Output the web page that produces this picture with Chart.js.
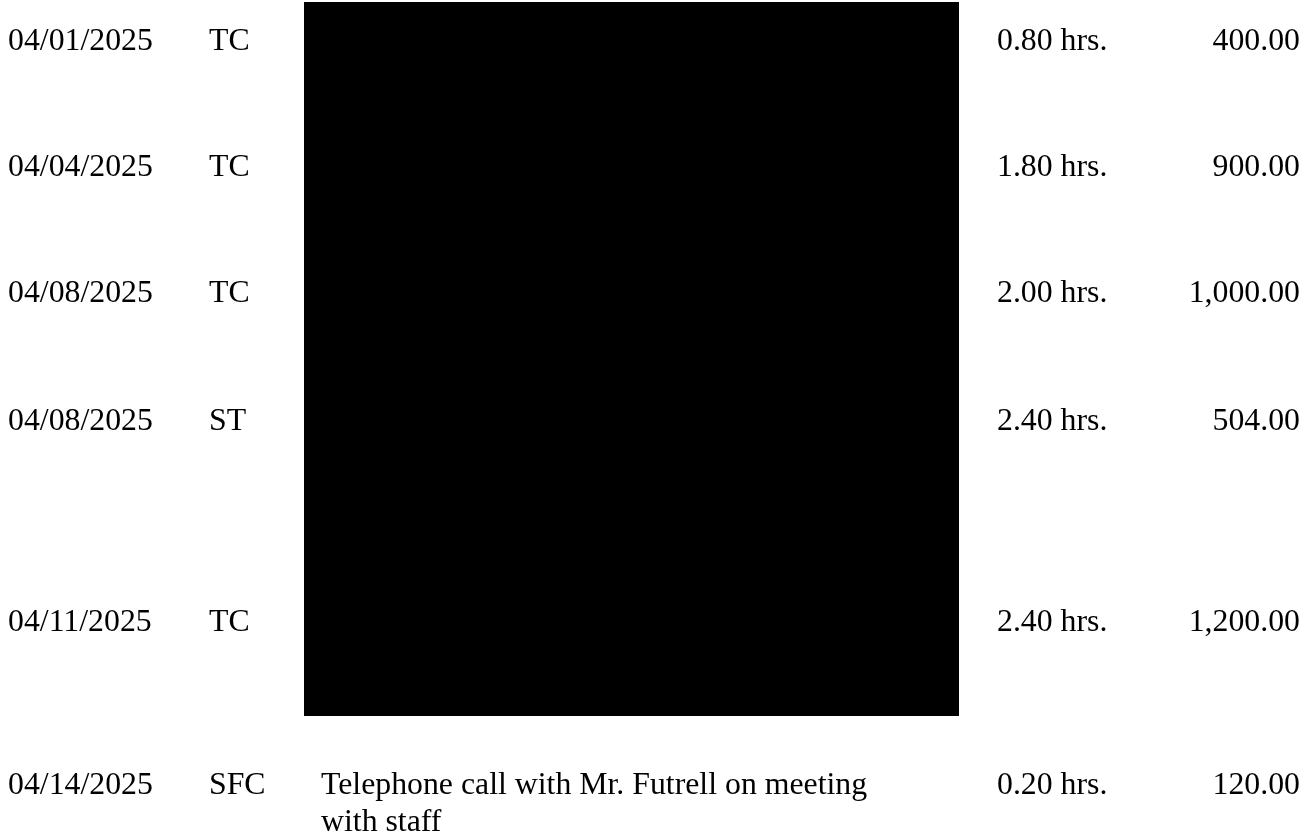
<!DOCTYPE html>
<html>
<head>
<meta charset="utf-8">
<script src="https://cdn.jsdelivr.net/npm/chart.js@4/dist/chart.umd.min.js"></script>
<style>
  html, body { margin: 0; padding: 0; background: #ffffff; }
  #wrap { width: 1309px; height: 832px; }
</style>
</head>
<body>
<div id="wrap"><canvas id="c" width="1309" height="832"></canvas></div>
<script>
// ---- data ----
const dates = ['04/01/2025', '04/04/2025', '04/08/2025', '04/08/2025', '04/11/2025', '04/14/2025'];
const timekeepers = ['TC', 'TC', 'TC', 'ST', 'TC', 'SFC'];
const descriptions = [null, null, null, null, null, ['Telephone call with Mr. Futrell on meeting', 'with staff']];
const hours = [0.80, 1.80, 2.00, 2.40, 2.40, 0.20];
const amounts = [400.00, 900.00, 1000.00, 504.00, 1200.00, 120.00];
const redacted = [true, true, true, true, true, false];

// ---- layout (page units = px of the page) ----
const rowBaselines = [50, 176, 302, 430, 631, 794];
const lineHeight = 37;
const colDate = 8, colKeeper = 209, colDesc = 321, colHours = 997, colAmountRight = 1300;
const redactLeft = 304, redactRight = 959, redactTop = 2, redactBottom = 716;

const fontSpec = '31.8px "Liberation Serif", "Times New Roman", serif';

// Redaction block drawn as a filled area between two lines through the scales
const redactTopLine = [{x: redactLeft, y: redactTop}, {x: redactRight, y: redactTop}];
const redactBottomLine = [{x: redactLeft, y: redactBottom}, {x: redactRight, y: redactBottom}];

const textPlugin = {
  id: 'billingText',
  afterDatasetsDraw(chart) {
    const ctx = chart.ctx;
    const xs = chart.scales.x, ys = chart.scales.y;
    ctx.save();
    ctx.font = fontSpec;
    ctx.fillStyle = '#000000';
    ctx.textBaseline = 'alphabetic';
    dates.forEach((d, i) => {
      const y = ys.getPixelForValue(rowBaselines[i]);
      ctx.textAlign = 'left';
      ctx.fillText(d, xs.getPixelForValue(colDate), y);
      ctx.fillText(timekeepers[i], xs.getPixelForValue(colKeeper), y);
      if (!redacted[i] && descriptions[i]) {
        descriptions[i].forEach((line, k) => {
          ctx.fillText(line, xs.getPixelForValue(colDesc), ys.getPixelForValue(rowBaselines[i] + k * lineHeight));
        });
      }
      ctx.fillText(hours[i].toFixed(2) + ' hrs.', xs.getPixelForValue(colHours), y);
      ctx.textAlign = 'right';
      ctx.fillText(amounts[i].toLocaleString('en-US', {minimumFractionDigits: 2, maximumFractionDigits: 2}),
                   xs.getPixelForValue(colAmountRight), y);
    });
    ctx.restore();
  }
};

new Chart(document.getElementById('c'), {
  type: 'scatter',
  data: {
    datasets: [
      { data: redactTopLine, showLine: true, borderWidth: 0, borderColor: '#000000', pointRadius: 0, fill: false, backgroundColor: '#000000' },
      { data: redactBottomLine, showLine: true, borderWidth: 0, borderColor: '#000000', pointRadius: 0, fill: '-1', backgroundColor: '#000000' }
    ]
  },
  options: {
    responsive: false,
    animation: false,
    layout: { padding: 0 },
    plugins: { legend: { display: false }, tooltip: { enabled: false }, filler: { propagate: false } },
    scales: {
      x: { type: 'linear', min: 0, max: 1309, display: false },
      y: { type: 'linear', min: 0, max: 832, reverse: true, display: false }
    }
  },
  plugins: [textPlugin]
});
</script>
</body>
</html>
